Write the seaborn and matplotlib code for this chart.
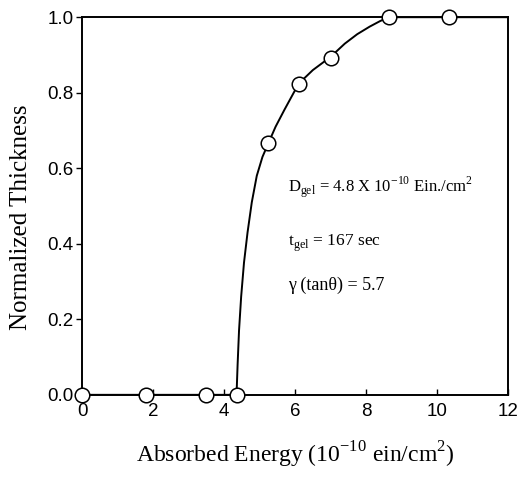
import matplotlib
matplotlib.use("Agg")
import matplotlib.pyplot as plt
import seaborn as sns
import pandas as pd

# measured points
energy = [0.0, 1.8, 3.5, 4.35, 5.25, 6.1, 7.0, 8.65, 10.35]
thickness = [0.0, 0.0, 0.0, 0.0, 0.667, 0.824, 0.893, 1.0, 1.0]

# fitted curve
curve_x = [0.0, 4.35, 4.38, 4.42, 4.48, 4.56, 4.66, 4.78, 4.92, 5.08, 5.25, 5.45,
           5.7, 6.1, 6.5, 7.0, 7.4, 7.75, 8.1, 8.4, 8.65, 10.35, 12.0]
curve_y = [0.0, 0.0, 0.08, 0.17, 0.26, 0.35, 0.43, 0.51, 0.58, 0.63, 0.667, 0.71,
           0.755, 0.824, 0.86, 0.895, 0.93, 0.955, 0.975, 0.99, 1.0, 1.0, 1.0]

x_ticks = [0, 2, 4, 6, 8, 10, 12]
y_ticks = [0.0, 0.2, 0.4, 0.6, 0.8, 1.0]

pts = pd.DataFrame({"energy": energy, "thickness": thickness})
crv = pd.DataFrame({"x": curve_x, "y": curve_y})

sns.set_theme(style="ticks")
plt.rcParams["font.family"] = ["Liberation Sans", "DejaVu Sans"]

fig = plt.figure(figsize=(5.2, 4.78), dpi=100)
ax = fig.add_axes([0.158, 0.174, 0.819, 0.790])

sns.lineplot(data=crv, x="x", y="y", sort=False, color="black", linewidth=1.4, ax=ax)
sns.scatterplot(data=pts, x="energy", y="thickness", ax=ax, s=110, marker="o",
                facecolor="white", edgecolor="black", linewidth=1.1, zorder=5, clip_on=False)

ax.set_xlim(0, 12)
ax.set_ylim(0, 1.0)
ax.set_xticks(x_ticks)
ax.set_xticklabels([str(t) for t in x_ticks])
ax.set_yticks(y_ticks)
ax.set_yticklabels([f"{t:.1f}" for t in y_ticks])

for s in ax.spines.values():
    s.set_linewidth(1.4)
    s.set_color("black")
ax.tick_params(axis="x", direction="in", length=4, width=1, labelsize=13.5, pad=6, colors="black")
ax.tick_params(axis="y", direction="out", length=4, width=1, labelsize=13.5, pad=2, colors="black")

serif = ["Liberation Serif", "DejaVu Serif"]
ax.set_xlabel(r"Absorbed Energy (10$^{\mathregular{-10}}$ ein/cm$^{\mathregular{2}}$)",
              family=serif, fontsize=17, labelpad=14, color="black")
ax.set_ylabel("Normalized Thickness", family=serif, fontsize=18, color="black")
ax.yaxis.set_label_coords(-0.118, 0.47)

ax.text(5.8, 0.55, r"D$_{\mathregular{gel}}$ = 4.8 X 10$^{\mathregular{-10}}$ Ein./cm$^{\mathregular{2}}$",
        family=serif, fontsize=12, va="center", ha="left", color="black")
ax.text(5.8, 0.40, r"t$_{\mathregular{gel}}$ = 167 sec",
        family=serif, fontsize=12.5, va="center", ha="left", color="black")
ax.text(5.8, 0.29, "\u03b3 (tan\u03b8) = 5.7",
        family=serif, fontsize=13, va="center", ha="left", color="black")

fig.savefig("out.png", dpi=100)
